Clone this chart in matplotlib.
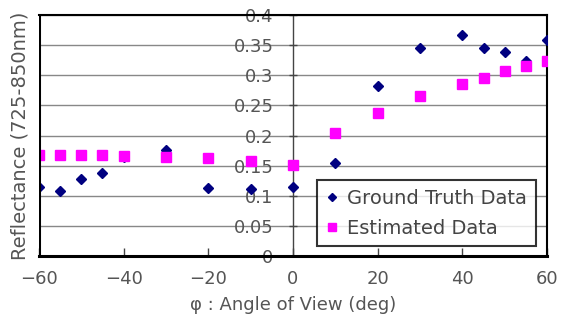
import matplotlib
matplotlib.use("Agg")
import matplotlib.pyplot as plt

angles = [-60, -55, -50, -45, -40, -30, -20, -10, 0, 10, 20, 30, 40, 45, 50, 55, 60]
ground_truth = [0.115, 0.108, 0.128, 0.138, 0.164, 0.176, 0.113, 0.111, 0.115,
                0.155, 0.282, 0.346, 0.367, 0.346, 0.338, 0.323, 0.359]
estimated = [0.168, 0.168, 0.168, 0.168, 0.166, 0.165, 0.162, 0.157, 0.151,
             0.204, 0.237, 0.265, 0.286, 0.296, 0.307, 0.316, 0.324]

xticks = [-60, -40, -20, 0, 20, 40, 60]
yticks = [0, 0.05, 0.1, 0.15, 0.2, 0.25, 0.3, 0.35, 0.4]
ytick_labels = ["0", "0.05", "0.1", "0.15", "0.2", "0.25", "0.3", "0.35", "0.4"]

text_color = "#555555"

fig = plt.figure(figsize=(5.64, 3.25), dpi=100)
ax = fig.add_axes([0.069, 0.212, 0.901, 0.742])

ax.set_xlim(-60, 60)
ax.set_ylim(0, 0.4)

for y in yticks[1:]:
    ax.axhline(y, color="#888888", linewidth=1.0, zorder=1)

ax.plot(angles, ground_truth, linestyle="none", marker="D", markersize=5,
        color="#000080", label="Ground Truth Data", zorder=3)
ax.plot(angles, estimated, linestyle="none", marker="s", markersize=6.5,
        color="#ff00ff", label="Estimated Data", zorder=3)

# y axis crosses at x = 0
ax.spines["left"].set_position(("data", 0))
ax.spines["left"].set_color("#444444")
ax.spines["left"].set_linewidth(1.0)
ax.axvline(-60, color="black", linewidth=2.2, zorder=4)
ax.spines["bottom"].set_linewidth(2.2)
ax.spines["top"].set_linewidth(1.5)
ax.spines["right"].set_linewidth(1.5)

ax.set_xticks(xticks)
ax.set_yticks(yticks)
ax.set_yticklabels(ytick_labels)
ax.tick_params(axis="x", direction="in", length=6, width=1, colors="#444444",
               labelcolor=text_color, labelsize=13, pad=10)
ax.tick_params(axis="y", direction="inout", length=6, width=1, colors="#444444",
               labelcolor=text_color, labelsize=13, pad=11)

ax.set_xlabel("\u03c6 : Angle of View (deg)", fontsize=13, color=text_color, labelpad=6)
ax.text(-0.038, 0.5, "Reflectance (725-850nm)", transform=ax.transAxes, rotation=90,
        ha="center", va="center", fontsize=14, color=text_color)

leg = ax.legend(loc="lower right", bbox_to_anchor=(0.997, 0.0), fontsize=14,
                frameon=True, fancybox=False, handlelength=0.6, handletextpad=0.5,
                borderpad=0.45, labelspacing=0.55, markerscale=0.9)
leg.get_frame().set_edgecolor("black")
leg.get_frame().set_linewidth(1.5)
for t in leg.get_texts():
    t.set_color("#444444")

fig.savefig("out.png", dpi=100)
